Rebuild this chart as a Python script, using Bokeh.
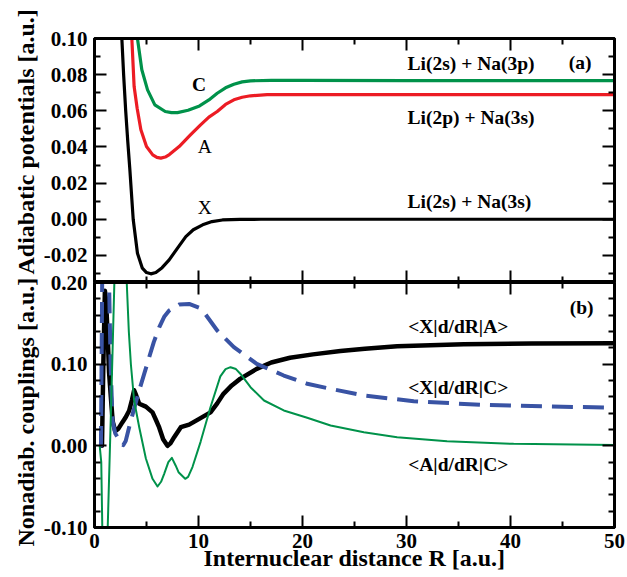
from bokeh.plotting import figure
from bokeh.layouts import column
from bokeh.models import Range1d, FixedTicker, LinearAxis, Title, CustomLabelingPolicy
from bokeh.core.properties import value
from bokeh.embed import file_html
from bokeh.resources import INLINE

# ---------------- data ----------------
# panel (a): adiabatic potentials
R_X = [2.0, 2.3, 2.63, 2.8, 3.0, 3.2, 3.4, 3.72, 4.13, 4.6, 5.0, 5.42, 5.9, 6.5, 7.18,
       8.0, 8.78, 9.5, 10.4, 11.3, 12.3, 14.0, 16.0, 20.0, 30.0, 40.0, 50.0]
V_X = [0.25, 0.16, 0.10, 0.08, 0.06, 0.043, 0.0275, 0.0, -0.0188, -0.0271, -0.0295, -0.0302,
       -0.0295, -0.0268, -0.0225, -0.0158, -0.0096, -0.0058, -0.0031, -0.0013, -0.0004,
       -0.0001, 0.0, 0.0, 0.0, 0.0, 0.0]

R_A = [3.2, 3.59, 3.81, 4.1, 4.46, 5.0, 5.6, 6.0, 6.38, 6.8, 7.2, 8.14, 9.2, 10.2, 11.0,
       11.8, 12.6, 13.4, 14.2, 15.0, 16.6, 20.0, 30.0, 40.0, 50.0]
V_A = [0.13, 0.10, 0.0734, 0.0614, 0.0495, 0.0402, 0.0356, 0.0342, 0.0338, 0.0344, 0.0358,
       0.0402, 0.0465, 0.0522, 0.0565, 0.0596, 0.0635, 0.0661, 0.0675, 0.0683, 0.0689,
       0.0690, 0.0690, 0.0690, 0.0690]

R_C = [3.7, 4.13, 4.55, 5.1, 5.8, 6.8, 7.4, 7.98, 9.0, 10.1, 11.0, 11.8, 12.6, 13.4, 14.2,
       15.0, 17.0, 20.0, 30.0, 40.0, 50.0]
V_C = [0.13, 0.10, 0.0827, 0.0716, 0.0633, 0.0596, 0.0590, 0.0590, 0.0603, 0.0627, 0.0660,
       0.0697, 0.0727, 0.0747, 0.0760, 0.0766, 0.0768, 0.0768, 0.0767, 0.0767, 0.0767]

# panel (b): nonadiabatic couplings
R_XA = [0.5, 0.72, 0.85, 1.0, 1.1, 1.25, 1.4, 1.57, 1.75, 1.99, 2.3, 2.69, 3.0, 3.33, 3.6,
        3.81, 4.0, 4.3, 4.94, 5.58, 5.9, 6.22, 6.6, 7.02, 7.3, 7.66, 8.3, 9.1, 10.07, 11.15,
        11.8, 12.4, 13.2, 14.0, 15.6, 17.0, 18.8, 21.0, 23.65, 26.0, 29.1, 35.5, 42.0, 50.0]
C_XA = [0.0, 0.0, 0.10, 0.19, 0.18, 0.14, 0.09, 0.06, 0.03, 0.018, 0.021, 0.029, 0.035, 0.043,
        0.056, 0.068, 0.062, 0.0515, 0.048, 0.041, 0.032, 0.0225, 0.008, 0.0, 0.003, 0.0106,
        0.0228, 0.026, 0.033, 0.041, 0.052, 0.0637, 0.074, 0.082, 0.0943, 0.102, 0.1078,
        0.112, 0.116, 0.119, 0.122, 0.1245, 0.1253, 0.1257]

R_XC = [0.5, 0.62, 0.75, 0.9, 1.2, 1.4, 1.55, 1.73, 2.0, 2.21, 2.5, 2.76, 3.0, 3.33, 3.8, 4.3,
        4.8, 5.26, 5.7, 6.22, 6.7, 7.18, 8.14, 9.1, 10.07, 10.5, 11.8, 13.4, 15.6, 18.2, 20.45,
        22.7, 25.9, 30.7, 37.1, 43.5, 50.0]
C_XC = [0.0, 0.0, 0.22, 0.30, 0.30, 0.20, 0.10, 0.031, 0.015, 0.0106, 0.003, 0.0008, 0.006,
        0.0228, 0.045, 0.0678, 0.089, 0.1086, 0.127, 0.145, 0.158, 0.1657, 0.173, 0.1738,
        0.169, 0.164, 0.1412, 0.1208, 0.1004, 0.0861, 0.076, 0.0698, 0.0616, 0.0547, 0.0502,
        0.0482, 0.0467]

R_AC = [0.5, 0.65, 0.75, 0.85, 1.1, 1.27, 1.6, 1.91, 2.3, 2.7, 3.1, 3.3, 3.5, 3.81, 4.3, 4.94,
        5.58, 6.06, 6.4, 6.7, 7.1, 7.44, 7.8, 8.08, 8.72, 9.0, 9.42, 10.2, 11.15, 12.1, 12.6,
        13.08, 13.6, 14.04, 15.0, 16.3, 18.2, 20.45, 22.7, 25.9, 29.1, 33.9, 40.3, 50.0]
C_AC = [0.0, -0.02, -0.10, -0.30, -0.30, -0.10, 0.05, 0.20, 0.35, 0.30, 0.20, 0.14, 0.0996,
        0.0555, 0.0228, -0.0155, -0.0404, -0.0498, -0.044, -0.0343, -0.020, -0.0147, -0.024,
        -0.0323, -0.0404, -0.038, -0.026, 0.0049, 0.0473, 0.085, 0.094, 0.0963, 0.094, 0.088,
        0.0718, 0.0555, 0.0433, 0.0343, 0.0249, 0.0167, 0.0106, 0.0057, 0.0024, 0.001]

# ticks and tick labels
X_TICKS = [0, 10, 20, 30, 40, 50]
X_MINOR = [5, 15, 25, 35, 45]
YA_TICKS = [-0.02, 0.0, 0.02, 0.04, 0.06, 0.08, 0.10]
YA_LABELS = ["-0.02", "0.00", "0.02", "0.04", "0.06", "0.08", "0.10"]
YA_MINOR = [-0.03, -0.01, 0.01, 0.03, 0.05, 0.07, 0.09]
YB_TICKS = [-0.10, 0.0, 0.10, 0.20]
YB_LABELS = ["-0.10", "0.00", "0.10", "0.20"]
YB_MINOR = [-0.08, -0.06, -0.04, -0.02, 0.02, 0.04, 0.06, 0.08, 0.12, 0.14, 0.16, 0.18]

FONT = "Liberation Serif"
RED = "#ec1c24"
GREEN = "#00924a"
BLUE = "#3953a4"

HIDE_ALL = "for (const i of Array.from(indices)) { indices.set(i, false) }\nreturn indices"


def style_axis(ax, ticker, show_labels, overrides=None):
    ax.ticker = ticker
    ax.major_tick_in = 12
    ax.major_tick_out = 0
    ax.minor_tick_in = 6
    ax.minor_tick_out = 0
    ax.major_tick_line_width = 2
    ax.minor_tick_line_width = 2
    ax.major_tick_line_color = "black"
    ax.minor_tick_line_color = "black"
    ax.axis_line_width = 3
    ax.axis_line_color = "black"
    ax.major_label_text_font = FONT
    ax.major_label_text_font_style = "bold"
    ax.axis_label_text_font = FONT
    ax.axis_label_text_font_style = "bold"
    ax.axis_label_text_color = "black"
    ax.axis_label_text_font_size = "24px"
    if show_labels:
        ax.major_label_text_color = "black"
        ax.major_label_text_font_size = "21px"
        if overrides:
            ax.major_label_overrides = overrides
    else:
        ax.major_label_text_color = None
        ax.major_label_text_font_size = "1px"
        ax.major_label_standoff = 0
        ax.axis_label_standoff = 0
        ax.major_label_policy = CustomLabelingPolicy(code=HIDE_ALL)
        ax.axis_label = None


def base_fig(height, yr, top_b, bot_b, **kw):
    p = figure(width=627, height=height, x_range=Range1d(0, 50), y_range=yr,
               output_backend="svg", toolbar_location=None,
               min_border_left=94, min_border_right=13,
               min_border_top=top_b, min_border_bottom=bot_b, **kw)
    p.xgrid.visible = False
    p.ygrid.visible = False
    p.outline_line_color = "black"
    p.outline_line_width = 3
    p.background_fill_color = "white"
    p.border_fill_color = None
    return p


def side_title(p, text, offset):
    p.add_layout(Title(text=text, align="left", vertical_align="top", offset=offset,
                       standoff=0, text_font=FONT, text_font_style="bold",
                       text_font_size="24px", text_color="black"), "left")


# ---------------- panel (a) ----------------
pa = base_fig(282, Range1d(-0.035, 0.10), 38, 0)
style_axis(pa.xaxis[0], FixedTicker(ticks=X_TICKS, minor_ticks=X_MINOR), False)
style_axis(pa.yaxis[0], FixedTicker(ticks=YA_TICKS, minor_ticks=YA_MINOR), True,
           dict(zip(YA_TICKS, YA_LABELS)))
pa.yaxis[0].major_label_standoff = 7
ax_top = LinearAxis()
style_axis(ax_top, FixedTicker(ticks=X_TICKS, minor_ticks=X_MINOR), False)
pa.add_layout(ax_top, "above")
ax_r = LinearAxis()
style_axis(ax_r, FixedTicker(ticks=YA_TICKS, minor_ticks=YA_MINOR), False)
pa.add_layout(ax_r, "right")
side_title(pa, "Adiabatic potentials [a.u.]", 8)

pa.line(R_X, V_X, line_color="black", line_width=3.2, line_join="round")
pa.line(R_A, V_A, line_color=RED, line_width=3.2, line_join="round")
pa.line(R_C, V_C, line_color=GREEN, line_width=3.2, line_join="round")

pa.text(x=[30.1, 30.1, 30.1, 45.6, 10.06], y=[0.0862, 0.0563, 0.0098, 0.0867, 0.0744],
        text=["Li(2s) + Na(3p)", "Li(2p) + Na(3s)", "Li(2s) + Na(3s)", "(a)", "C"],
        text_font=value(FONT), text_font_style="bold", text_font_size="19.5px",
        text_baseline="middle", text_align="left", text_color="black",
        x_offset=[0, 0, 0, 0, -7])
pa.text(x=[10.6, 10.6], y=[0.040, 0.0063], text=["A", "X"],
        text_font=value(FONT), text_font_style="normal", text_font_size="19.5px",
        text_baseline="middle", text_align="center", text_color="black")

# ---------------- panel (b) ----------------
# the panel is pulled up 8 px so that its "0.20" label can reach over the joint
pb = base_fig(303, Range1d(-0.10, 0.20), 8, 50, margin=(-8, 0, 0, 0))
style_axis(pb.xaxis[0], FixedTicker(ticks=X_TICKS, minor_ticks=X_MINOR), True)
pb.xaxis[0].axis_label = "Internuclear distance R [a.u.]"
pb.xaxis[0].major_label_standoff = 6
pb.xaxis[0].axis_label_standoff = -6
style_axis(pb.yaxis[0], FixedTicker(ticks=YB_TICKS, minor_ticks=YB_MINOR), True,
           dict(zip(YB_TICKS, YB_LABELS)))
pb.yaxis[0].major_label_standoff = 7
ax_top_b = LinearAxis()
style_axis(ax_top_b, FixedTicker(ticks=X_TICKS, minor_ticks=X_MINOR), False)
pb.add_layout(ax_top_b, "above")
ax_r_b = LinearAxis()
style_axis(ax_r_b, FixedTicker(ticks=YB_TICKS, minor_ticks=YB_MINOR), False)
pb.add_layout(ax_r_b, "right")
side_title(pb, "Nonadiab. couplings [a.u.]", -19)

pb.line(R_XA, C_XA, line_color="black", line_width=4.5, line_join="round")
pb.line(R_XC, C_XC, line_color=BLUE, line_width=4, line_dash="21 10", line_join="round")
pb.line(R_AC, C_AC, line_color=GREEN, line_width=2, line_join="round")

pb.text(x=[45.7, 30.16, 30.16, 30.16], y=[0.170, 0.146, 0.071, -0.0228],
        text=["(b)", "<X|d/dR|A>", "<X|d/dR|C>", "<A|d/dR|C>"],
        text_font=value(FONT), text_font_style="bold", text_font_size="19.5px",
        text_baseline="middle", text_align="left", text_color="black")

layout = column(pa, pb, spacing=0)
open("out.html", "w").write(file_html(layout, INLINE))
